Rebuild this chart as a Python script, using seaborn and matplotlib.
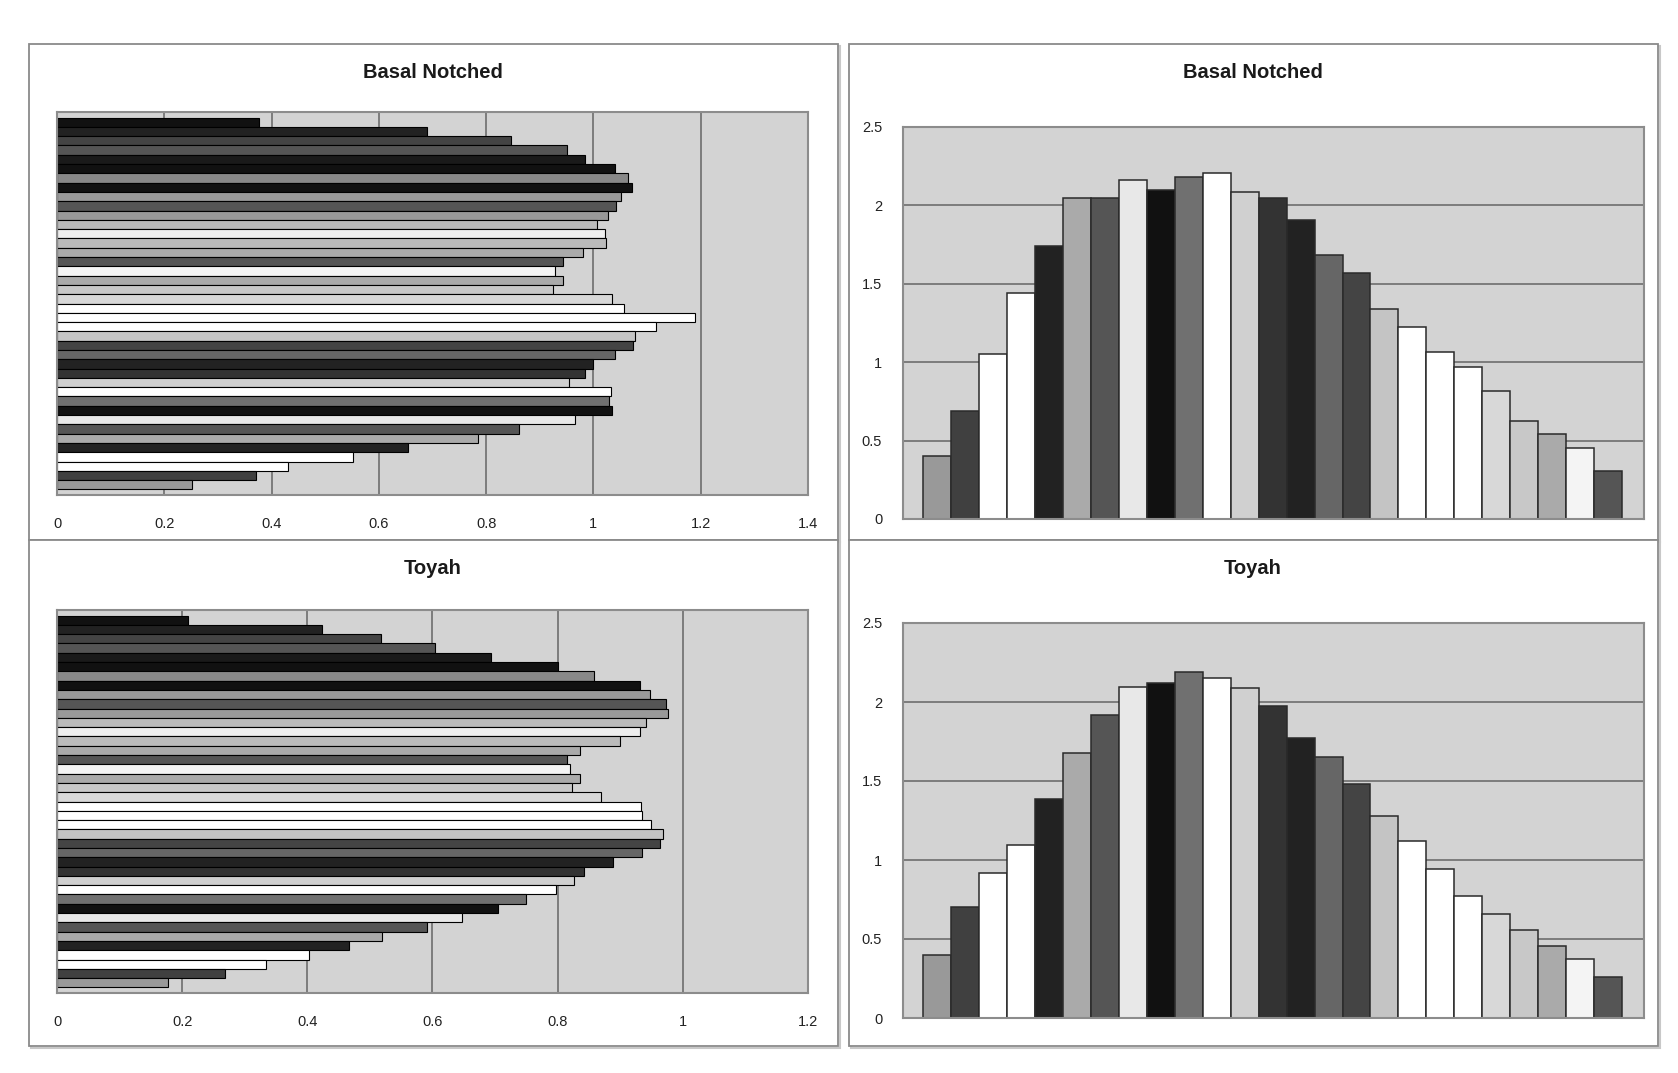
import numpy as np
import pandas as pd
import matplotlib
matplotlib.use("Agg")
import matplotlib.pyplot as plt
import seaborn as sns
from matplotlib.patches import Rectangle

# 1. Data
# horizontal panels, listed top bar -> bottom bar (series 40 ... series 1)
basal_h = [0.376, 0.690, 0.846, 0.951, 0.985, 1.040, 1.065, 1.071, 1.051, 1.043,
           1.027, 1.007, 1.021, 1.024, 0.980, 0.943, 0.928, 0.943, 0.925, 1.035,
           1.057, 1.190, 1.117, 1.078, 1.073, 1.040, 1.000, 0.985, 0.954, 1.032,
           1.029, 1.034, 0.966, 0.861, 0.784, 0.655, 0.551, 0.430, 0.371, 0.251]
toyah_h = [0.209, 0.424, 0.518, 0.604, 0.694, 0.800, 0.858, 0.931, 0.948, 0.973,
           0.976, 0.941, 0.932, 0.900, 0.836, 0.815, 0.819, 0.836, 0.823, 0.870,
           0.933, 0.935, 0.949, 0.969, 0.963, 0.935, 0.888, 0.842, 0.826, 0.798,
           0.750, 0.705, 0.647, 0.592, 0.520, 0.467, 0.402, 0.334, 0.268, 0.177]
# vertical panels, listed left -> right (series 1 ... series 25)
basal_v = [0.40, 0.686, 1.051, 1.444, 1.741, 2.049, 2.049, 2.161, 2.098, 2.178,
           2.204, 2.087, 2.049, 1.906, 1.684, 1.571, 1.338, 1.223, 1.068, 0.972,
           0.817, 0.622, 0.541, 0.452, 0.304]
toyah_v = [0.399, 0.700, 0.916, 1.095, 1.384, 1.679, 1.916, 2.093, 2.118, 2.188,
           2.150, 2.089, 1.975, 1.774, 1.654, 1.479, 1.281, 1.122, 0.945, 0.774,
           0.656, 0.557, 0.458, 0.373, 0.257]
# grey fill of series 1..40 (Excel default series colours printed in greyscale)
series_grays = ["#999999", "#404040", "#ffffff", "#ffffff", "#222222", "#aaaaaa",
                "#555555", "#e8e8e8", "#111111", "#707070", "#ffffff", "#d0d0d0",
                "#333333", "#222222", "#666666", "#444444", "#c4c4c4", "#ffffff",
                "#ffffff", "#ffffff", "#d8d8d8", "#c8c8c8", "#aaaaaa", "#f4f4f4",
                "#555555", "#aaaaaa", "#bbbbbb", "#eeeeee", "#bbbbbb", "#999999",
                "#555555", "#999999", "#111111", "#888888", "#111111", "#1a1a1a",
                "#555555", "#444444", "#222222", "#111111"]
titles = ["Basal Notched", "Toyah"]

W, H = 1678, 1073
PLOT_BG = "#d3d3d3"
GRID = "#6e6e6e"
SPINE = "#8c8c8c"

sns.set_style("white")
plt.rcParams["font.family"] = ["Liberation Sans", "DejaVu Sans"]

fig = plt.figure(figsize=(W / 100, H / 100), dpi=100)


def px_axes(x0, y0, x1, y1):
    return fig.add_axes([x0 / W, 1 - y1 / H, (x1 - x0) / W, (y1 - y0) / H])


def px_box(x0, y0, x1, y1):
    # light shadow then the panel frame
    fig.add_artist(Rectangle(((x0 + 2) / W, 1 - (y1 + 2) / H), (x1 - x0) / W, (y1 - y0) / H,
                             transform=fig.transFigure, facecolor="none",
                             edgecolor="#c8c8c8", lw=1.5, zorder=0))
    fig.add_artist(Rectangle((x0 / W, 1 - y1 / H), (x1 - x0) / W, (y1 - y0) / H,
                             transform=fig.transFigure, facecolor="white",
                             edgecolor="#8a8a8a", lw=1.3, zorder=0))


def style_axes(ax):
    ax.set_facecolor(PLOT_BG)
    ax.set_axisbelow(True)
    for s in ax.spines.values():
        s.set_color(SPINE)
        s.set_linewidth(1.5)
    ax.set_xlabel("")
    ax.set_ylabel("")


def hbar_panel(ax, values, xmax):
    n = len(values)
    names = [f"S{i}" for i in range(n, 0, -1)]
    df = pd.DataFrame({"series": names, "value": values})
    sns.barplot(data=df, x="value", y="series", hue="series", order=names,
                hue_order=names, palette=series_grays[:n][::-1], dodge=False,
                width=1.0, saturation=1, edgecolor="black", linewidth=0.8,
                legend=False, ax=ax)
    ax.set_xlim(0, xmax)
    ax.set_ylim(n - 0.5 + 0.6, -0.5 - 0.6)
    ticks = np.round(np.arange(0, xmax + 0.001, 0.2), 1)
    ax.set_xticks(ticks)
    ax.set_xticklabels([f"{t:g}" for t in ticks])
    ax.set_yticks([])
    ax.grid(axis="x", color=GRID, lw=1.2)
    ax.grid(axis="y", visible=False)
    style_axes(ax)
    ax.tick_params(axis="x", direction="out", length=6, width=1.2, color="#777777",
                   pad=10, labelsize=10.5, labelcolor="#222222")


def vbar_panel(ax, values):
    n = len(values)
    names = [f"S{i}" for i in range(1, n + 1)]
    df = pd.DataFrame({"series": names, "value": values})
    sns.barplot(data=df, x="series", y="value", hue="series", order=names,
                hue_order=names, palette=series_grays[:n], dodge=False,
                width=1.0, saturation=1, edgecolor="#2a2a2a", linewidth=1.1,
                legend=False, ax=ax)
    ax.set_xlim(-0.5 - 0.73, n - 0.5 + 0.79)
    ax.set_ylim(0, 2.5)
    ticks = np.arange(0, 2.51, 0.5)
    ax.set_yticks(ticks)
    ax.set_yticklabels([f"{t:g}" for t in ticks])
    ax.set_xticks([])
    ax.grid(axis="y", color=GRID, lw=1.2)
    ax.grid(axis="x", visible=False)
    style_axes(ax)
    ax.tick_params(axis="y", direction="out", length=6, width=1.2, color="#777777",
                   pad=9, labelsize=10.5, labelcolor="#222222")


# 2. Panel frames
px_box(29, 44, 838, 540)
px_box(29, 540, 838, 1046)
px_box(849, 44, 1658, 540)
px_box(849, 540, 1658, 1046)

# 3. Left column: horizontal bars
ax1 = px_axes(57, 112, 808, 495)
hbar_panel(ax1, basal_h, 1.4)
ax2 = px_axes(57, 610, 808, 993)
hbar_panel(ax2, toyah_h, 1.2)

# 4. Right column: vertical bars
ax3 = px_axes(903, 127, 1644, 519)
vbar_panel(ax3, basal_v)
ax4 = px_axes(903, 623, 1644, 1018)
vbar_panel(ax4, toyah_v)

# 5. Titles
for cx in (433, 1253):
    fig.text(cx / W, 1 - 73 / H, titles[0], ha="center", va="center",
             fontsize=14.5, fontweight="bold", color="#1a1a1a")
    fig.text(cx / W, 1 - 569 / H, titles[1], ha="center", va="center",
             fontsize=14.5, fontweight="bold", color="#1a1a1a")

fig.savefig("out.png", dpi=100, facecolor="white")
